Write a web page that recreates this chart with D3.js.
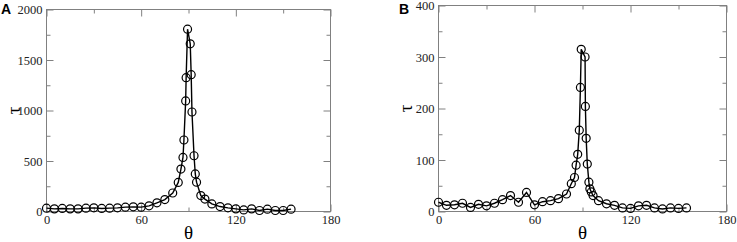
<!DOCTYPE html>
<html>
<head>
<meta charset="utf-8">
<script src="https://cdn.jsdelivr.net/npm/d3@7"></script>
<style>
  body { margin: 0; background: #fff; }
  svg { display: block; }
</style>
</head>
<body>
<div id="chart"></div>
<script>
// panel A
const thetaA = [0, 5, 10, 15, 20, 25, 30, 35, 40, 45, 50, 55, 60, 65, 70, 75, 80, 83.5, 85.2, 86.5, 87.1, 88.2, 88.5, 89.4,
    91.1, 91.7, 92.2, 93.5, 94.3, 95.1, 97.8, 100.4, 104.8, 110, 115, 120, 125, 130, 135, 140, 145, 150, 155];
const tauA = [33, 26, 30, 26, 26, 33, 36, 30, 33, 36, 43, 46, 43, 56, 86, 118, 183, 288, 420, 535, 708, 1095, 1325, 1805,
    1660, 1355, 985, 552, 372, 290, 158, 123, 75, 49, 36, 26, 16, 26, 10, 23, 10, 10, 23];

// panel B
const thetaB = [0, 5, 10, 15, 20, 25, 30, 35, 40, 45, 50, 55, 60, 65, 70, 75, 80, 83, 85, 86, 87, 88, 88.7, 89.2,
    91.6, 91.8, 92.3, 93, 94, 94.6, 95.5, 96.6, 100, 105, 110, 115, 120, 125, 130, 135, 140, 145, 150, 155];
const tauB = [18, 12, 13, 16, 8, 14, 11, 16, 23, 31, 18, 37, 13, 19, 21, 25, 34, 54, 66, 90, 111, 158, 241, 315,
    300, 204, 142, 92, 57, 44, 38, 31, 21, 15, 12, 7, 6, 11, 12, 7, 5, 7, 6, 7];

// ticks
const xTicks = [0, 60, 120, 180];
const xMinor = [30, 90, 150];
const yTicksA = [0, 500, 1000, 1500, 2000];
const yMinorA = [250, 750, 1250, 1750];
const yTicksB = [0, 100, 200, 300, 400];
const yMinorB = [50, 150, 250, 350];

const W = 737, H = 242;
const frameColor = '#808080';
const serifFont = 'Liberation Serif';

const svg = d3.select('#chart')
    .append('svg')
    .attr('width', W)
    .attr('height', H);

function drawPanel(cfg) {

    const xScale = d3.scaleLinear().domain([0, 180]).range([cfg.left, cfg.right]);
    const yScale = d3.scaleLinear().domain([0, cfg.yMax]).range([cfg.bottom, cfg.top]);

    const g = svg.append('g');

    // frame
    g.append('rect')
        .attr('x', cfg.left)
        .attr('y', cfg.top)
        .attr('width', cfg.right - cfg.left)
        .attr('height', cfg.bottom - cfg.top)
        .attr('fill', 'none')
        .attr('stroke', frameColor)
        .attr('stroke-width', 1);

    const fmt = d3.format('d');

    // axes (ticks point inward, mirrored on top and right)
    const axes = [
        { ax: d3.axisBottom(xScale).tickValues(xTicks).tickSize(-7).tickPadding(4).tickFormat(fmt), t: `translate(0,${cfg.bottom})` },
        { ax: d3.axisBottom(xScale).tickValues(xMinor).tickSize(-4).tickFormat(''), t: `translate(0,${cfg.bottom})` },
        { ax: d3.axisTop(xScale).tickValues(xTicks).tickSize(-7).tickFormat(''), t: `translate(0,${cfg.top})` },
        { ax: d3.axisTop(xScale).tickValues(xMinor).tickSize(-4).tickFormat(''), t: `translate(0,${cfg.top})` },
        { ax: d3.axisLeft(yScale).tickValues(cfg.yTicks).tickSize(-7).tickPadding(4).tickFormat(fmt), t: `translate(${cfg.left},0)` },
        { ax: d3.axisLeft(yScale).tickValues(cfg.yMinor).tickSize(-4).tickFormat(''), t: `translate(${cfg.left},0)` },
        { ax: d3.axisRight(yScale).tickValues(cfg.yTicks).tickSize(-7).tickFormat(''), t: `translate(${cfg.right},0)` },
        { ax: d3.axisRight(yScale).tickValues(cfg.yMinor).tickSize(-4).tickFormat(''), t: `translate(${cfg.right},0)` }
    ];

    axes.forEach(a => {
        const ag = g.append('g')
            .attr('transform', a.t)
            .call(a.ax.tickSizeOuter(0));
        ag.select('.domain').remove();
        ag.selectAll('line').attr('stroke', frameColor);
        ag.selectAll('text')
            .attr('fill', '#222')
            .attr('font-family', serifFont)
            .attr('font-size', 12.5);
    });

    // line
    const pts = cfg.theta.map((t, i) => [t, cfg.tau[i]]);

    g.append('path')
        .datum(pts)
        .attr('fill', 'none')
        .attr('stroke', '#000')
        .attr('stroke-width', 1.4)
        .attr('d', d3.line()
            .x(d => xScale(d[0]))
            .y(d => yScale(d[1])));

    // markers
    g.selectAll('circle.pt')
        .data(pts)
        .enter()
        .append('circle')
        .attr('class', 'pt')
        .attr('cx', d => xScale(d[0]))
        .attr('cy', d => yScale(d[1]))
        .attr('r', 4)
        .attr('fill', 'none')
        .attr('stroke', '#000')
        .attr('stroke-width', 1.2);

    // axis titles
    g.append('text')
        .attr('font-family', serifFont)
        .attr('x', (cfg.left + cfg.right) / 2)
        .attr('y', 239)
        .attr('text-anchor', 'middle')
        .attr('font-size', 19)
        .text('θ');

    g.append('text')
        .attr('font-family', serifFont)
        .attr('transform', `translate(${cfg.left - 33},${(cfg.top + cfg.bottom) / 2}) rotate(-90)`)
        .attr('text-anchor', 'middle')
        .attr('dominant-baseline', 'central')
        .attr('font-size', 19)
        .text('τ');

    // panel letter
    g.append('text')
        .attr('x', cfg.letterX)
        .attr('y', 14)
        .attr('font-family', 'Liberation Sans')
        .attr('font-weight', 'bold')
        .attr('font-size', 14)
        .text(cfg.letter);
}

drawPanel({
    letter: 'A', letterX: 1,
    left: 46.5, right: 330.5, top: 9.5, bottom: 211.5,
    yMax: 2000, yTicks: yTicksA, yMinor: yMinorA,
    theta: thetaA, tau: tauA
});

drawPanel({
    letter: 'B', letterX: 399,
    left: 438.5, right: 726.5, top: 5.5, bottom: 211.5,
    yMax: 400, yTicks: yTicksB, yMinor: yMinorB,
    theta: thetaB, tau: tauB
});
</script>
</body>
</html>
